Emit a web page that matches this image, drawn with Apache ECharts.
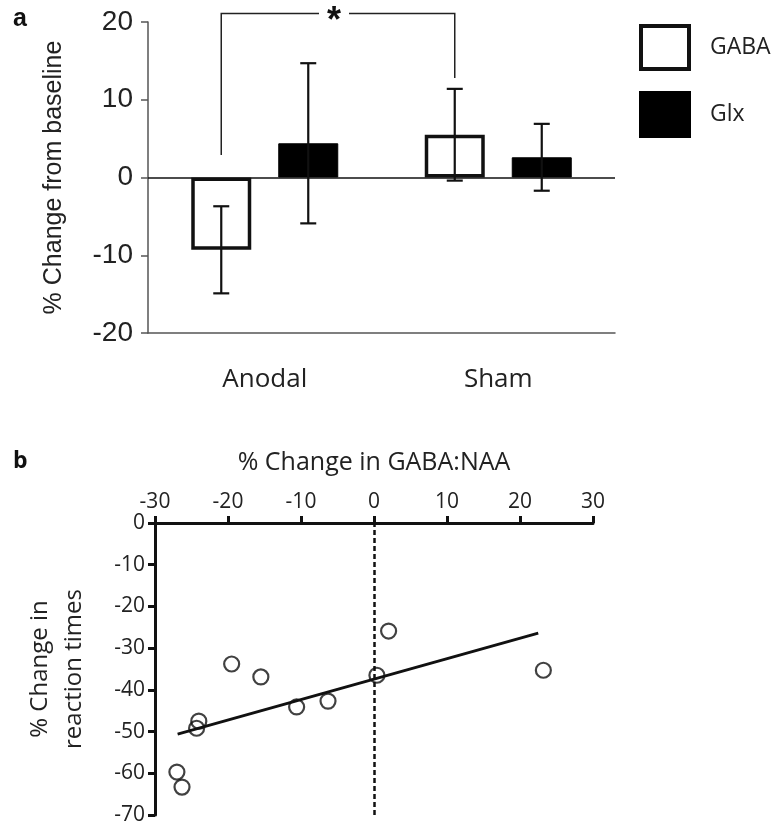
<!DOCTYPE html>
<html>
<head>
<meta charset="utf-8">
<script src="https://cdn.jsdelivr.net/npm/echarts@6/dist/echarts.min.js"></script>
<style>
html,body{margin:0;padding:0;background:#fff;}
#chart{width:777px;height:826px;}
</style>
</head>
<body>
<div id="chart"></div>
<script>
// ---------- Panel a data ----------
var categories = ['Anodal', 'Sham'];
var gabaMeans = [-9.3, 5.5];
var gabaErrors = [5.6, 5.9];
var glxMeans = [4.4, 2.6];
var glxErrors = [10.3, 4.3];
// significance bracket: [leftCategory, rightCategory, topValue, leftEnd, rightEnd]
var sigBracket = [0, 1, 21.1, 2.9, 12.8];
var sigLabel = '*';

// ---------- Panel b data ----------
var gabaChange = [-27.0, -26.3, -24.0, -24.3, -19.5, -15.5, -10.6, -6.3, 0.4, 2.0, 23.2];
var rtChange   = [-59.7, -63.3, -47.5, -49.2, -33.8, -36.9, -44.1, -42.7, -36.5, -25.9, -35.3];
var fitX = [-26.9, 22.5];
var fitY = [-50.6, -26.4];

var scatterData = gabaChange.map(function (x, i) { return [x, rtChange[i]]; });
var fitData = fitX.map(function (x, i) { return [x, fitY[i]]; });

var BAR_W = 60, BAR_GAP = 27;
var OFFSET = (BAR_W + BAR_GAP) / 2;

function errorBarSeries(name, means, errs, sign) {
  return {
    type: 'custom',
    name: name + ' SEM',
    xAxisIndex: 0, yAxisIndex: 0,
    z: 10,
    data: means.map(function (m, i) { return [i, m, errs[i]]; }),
    renderItem: function (params, api) {
      var i = api.value(0), m = api.value(1), e = api.value(2);
      var top = api.coord([i, m + e]);
      var bot = api.coord([i, m - e]);
      var x = top[0] + sign * OFFSET;
      var cap = 8;
      var st = { stroke: '#111', lineWidth: 2.2 };
      return {
        type: 'group',
        children: [
          { type: 'line', shape: { x1: x, y1: top[1], x2: x, y2: bot[1] }, style: st },
          { type: 'line', shape: { x1: x - cap, y1: top[1], x2: x + cap, y2: top[1] }, style: st },
          { type: 'line', shape: { x1: x - cap, y1: bot[1], x2: x + cap, y2: bot[1] }, style: st }
        ]
      };
    }
  };
}

var chart = echarts.init(document.getElementById('chart'));
var option = {
  backgroundColor: '#ffffff',
  animation: false,
  graphic: [
    { type: 'text', left: 13, top: 7, style: { text: 'a', font: 'bold 25px "Liberation Sans", Arial, sans-serif', fill: '#111' } },
    { type: 'text', left: 13, top: 450, style: { text: 'b', font: 'bold 23px "Open Sans", sans-serif', fill: '#111' } }
  ],
  legend: {
    orient: 'vertical',
    left: 634,
    top: 19,
    itemWidth: 48,
    itemHeight: 43,
    itemGap: 20,
    icon: 'rect',
    textStyle: { fontFamily: 'Open Sans', fontSize: 23, color: '#222', padding: [0, 0, 0, 16] },
    data: [
      { name: 'GABA', itemStyle: { color: '#fff', borderColor: '#111', borderWidth: 4 } },
      { name: 'Glx', itemStyle: { color: '#000', borderColor: '#000', borderWidth: 4 } }
    ]
  },
  grid: [
    { left: 148, top: 22, width: 467, height: 311 },
    { left: 155, top: 523, width: 438, height: 292 }
  ],
  xAxis: [
    {
      type: 'category', gridIndex: 0, data: categories, boundaryGap: true,
      axisLine: { onZero: false, lineStyle: { color: '#555', width: 1.5 } },
      axisTick: { alignWithLabel: true, length: 6, lineStyle: { color: '#555', width: 1.5 } },
      axisLabel: { margin: 34, fontFamily: 'Open Sans', fontSize: 26, color: '#222' }
    },
    {
      type: 'value', gridIndex: 1, position: 'top', min: -30, max: 30, interval: 10,
      name: '% Change in GABA:NAA', nameLocation: 'middle', nameGap: 48,
      nameTextStyle: { fontFamily: 'Open Sans', fontSize: 25, color: '#222' },
      axisLine: { onZero: false, lineStyle: { color: '#111', width: 3 } },
      axisTick: { length: 7, lineStyle: { color: '#111', width: 3 } },
      axisLabel: { margin: 10, fontFamily: 'Open Sans', fontSize: 21, color: '#222' },
      splitLine: { show: false }
    }
  ],
  yAxis: [
    {
      type: 'value', gridIndex: 0, min: -20, max: 20, interval: 10,
      name: '% Change from baseline', nameLocation: 'middle', nameGap: 81,
      nameTextStyle: { fontFamily: 'Liberation Sans', fontSize: 25, color: '#222' },
      axisLine: { show: true, lineStyle: { color: '#555', width: 1.5 } },
      axisTick: { show: true, length: 7, lineStyle: { color: '#555', width: 1.5 } },
      axisLabel: { margin: 15, fontFamily: 'Liberation Sans', fontSize: 28, color: '#222' },
      splitLine: { show: false }
    },
    {
      type: 'value', gridIndex: 1, min: -70, max: 0, interval: 10,
      name: '% Change in\nreaction times', nameLocation: 'middle', nameGap: 64,
      nameTextStyle: { fontFamily: 'Open Sans', fontSize: 24, color: '#222', lineHeight: 34 },
      axisLine: { show: true, onZero: false, lineStyle: { color: '#111', width: 3 } },
      axisTick: { show: true, length: 7, lineStyle: { color: '#111', width: 3 } },
      axisLabel: { margin: 10, fontFamily: 'Open Sans', fontSize: 21, color: '#222' },
      splitLine: { show: false }
    }
  ],
  series: [
    {
      type: 'bar', name: 'GABA', xAxisIndex: 0, yAxisIndex: 0,
      data: gabaMeans, barWidth: BAR_W, barGap: (BAR_GAP / BAR_W * 100) + '%',
      itemStyle: { color: '#fff', borderColor: '#111', borderWidth: 3.5 },
      markLine: {
        silent: true, symbol: 'none', label: { show: false },
        lineStyle: { color: '#111', width: 1.5, type: 'solid' },
        data: [{ yAxis: 0 }]
      }
    },
    {
      type: 'bar', name: 'Glx', xAxisIndex: 0, yAxisIndex: 0,
      data: glxMeans, barWidth: BAR_W,
      itemStyle: { color: '#000', borderColor: '#000', borderWidth: 1 }
    },
    errorBarSeries('GABA', gabaMeans, gabaErrors, -1),
    errorBarSeries('Glx', glxMeans, glxErrors, 1),
    {
      type: 'custom', name: 'significance', xAxisIndex: 0, yAxisIndex: 0, clip: false, z: 11,
      data: [sigBracket],
      renderItem: function (params, api) {
        var l = api.value(0), r = api.value(1);
        var pTopL = api.coord([l, api.value(2)]);
        var pTopR = api.coord([r, api.value(2)]);
        var pL = api.coord([l, api.value(3)]);
        var pR = api.coord([r, api.value(4)]);
        var xl = pTopL[0] - OFFSET, xr = pTopR[0] - OFFSET;
        var y = pTopL[1];
        var st = { stroke: '#222', lineWidth: 1.5, fill: null };
        var mid = (xl + xr) / 2 - 4;
        return {
          type: 'group',
          children: [
            { type: 'polyline', shape: { points: [[xl, pL[1]], [xl, y], [mid - 15, y]] }, style: st },
            { type: 'polyline', shape: { points: [[mid + 15, y], [xr, y], [xr, pR[1]]] }, style: st },
            { type: 'text', style: { text: sigLabel, x: mid, y: y + 9, textAlign: 'center', textVerticalAlign: 'middle',
              font: 'bold 36px "Liberation Sans", Arial, sans-serif', fill: '#111' } }
          ]
        };
      }
    },
    {
      type: 'scatter', name: 'points', xAxisIndex: 1, yAxisIndex: 1,
      data: scatterData, symbol: 'circle', symbolSize: 15, z: 5,
      itemStyle: { color: 'rgba(255,255,255,0)', borderColor: '#111', borderWidth: 2.2 },
      markLine: {
        silent: true, symbol: 'none', label: { show: false },
        lineStyle: { color: '#111', width: 2.5, type: [5, 3] },
        data: [{ xAxis: 0 }]
      }
    },
    {
      type: 'line', name: 'fit', xAxisIndex: 1, yAxisIndex: 1,
      data: fitData, symbol: 'none', z: 4,
      lineStyle: { color: '#111', width: 3 }
    }
  ]
};
chart.setOption(option);
</script>
</body>
</html>
